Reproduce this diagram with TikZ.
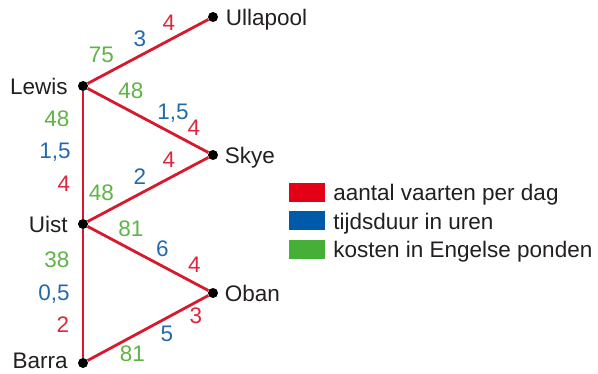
\documentclass[tikz,border=0pt]{standalone}
\usepackage{fontspec}
\setmainfont{Liberation Sans}
\usetikzlibrary{positioning}
\definecolor{routered}{RGB}{215,25,45}
\definecolor{numred}{RGB}{220,40,60}
\definecolor{numblue}{RGB}{35,105,175}
\definecolor{numgreen}{RGB}{95,180,70}
\definecolor{keyred}{RGB}{228,0,22}
\definecolor{keyblue}{RGB}{0,90,170}
\definecolor{keygreen}{RGB}{70,175,55}
\definecolor{txtgray}{RGB}{35,31,32}
\begin{document}
\begin{tikzpicture} [x=1pt, y=-1pt, port/.style={circle,fill=black,inner sep=0pt,minimum size=10pt},
place/.style={inner sep=0pt,text=txtgray,text height=16.2pt,text depth=0pt,font=\fontsize{22.5}{27}\selectfont},
num/.style={inner sep=0pt,anchor=base,font=\fontsize{22.5}{27}\selectfont},
route/.style={routered,line width=2.8pt}, keybox/.style={inner sep=0pt,minimum width=36pt,minimum height=19pt}]

\useasboundingbox (0,0) rectangle (598,374);

%harbours
\node[port] (ullapool) at (213,17) {};
\node[port] (lewis) at (83,86) {};
\node[port] (skye) at (213,155) {};
\node[port] (uist) at (83,224) {};
\node[port] (oban) at (213,293) {};
\node[port] (barra) at (83,363) {};

\node[place, right=7.5pt of ullapool] (ullapoolname) {Ullapool};
\node[place, left=10pt of lewis] (lewisname) {Lewis};
\node[place, right=6.5pt of skye] (skyename) {Skye};
\node[place, left=10pt of uist] (uistname) {Uist};
\node[place, right=6.5pt of oban] (obanname) {Oban};
\node[place, left=10pt of barra, yshift=3pt] (barraname) {Barra};

%ferry routes
\draw[route] (lewis) -- (ullapool);
\draw[route] (lewis) -- (skye);
\draw[route] (skye) -- (uist);
\draw[route] (uist) -- (oban);
\draw[route] (oban) -- (barra);
\draw[route] (lewis) -- (uist) -- (barra);

%cost, duration, ferries per day
\node[num, text=numgreen] (lu75) at (101.5,63) {75};
\node[num, text=numblue] (lu3) at (140,47) {3};
\node[num, text=numred] (lu4) at (169,31) {4};

\node[num, text=numgreen] (ls48) at (131,99) {48};
\node[num, text=numblue] (ls15) at (173,120) {1,5};
\node[num, text=numred] (ls4) at (194,136) {4};

\node[num, text=numgreen] (lw48) at (57,127) {48};
\node[num, text=numblue] (lw15) at (55,159) {1,5};
\node[num, text=numred] (lw4) at (64,192) {4};

\node[num, text=numgreen] (us48) at (101.5,201) {48};
\node[num, text=numblue] (us2) at (140,185) {2};
\node[num, text=numred] (us4) at (169,168) {4};

\node[num, text=numgreen] (uo81) at (131,237) {81};
\node[num, text=numblue] (uo6) at (162.5,257) {6};
\node[num, text=numred] (uo4) at (194.5,273) {4};

\node[num, text=numgreen] (ub38) at (57,268) {38};
\node[num, text=numblue] (ub05) at (54,301) {0,5};
\node[num, text=numred] (ub2) at (63,333) {2};

\node[num, text=numred] (ob3) at (196,324) {3};
\node[num, text=numblue] (ob5) at (167,342) {5};
\node[num, text=numgreen] (ob81) at (132.5,362) {81};

%legend
\node[keybox, fill=keyred] (redkey) at (307,192.5) {};
\node[keybox, fill=keyblue] (bluekey) at (307,221) {};
\node[keybox, fill=keygreen] (greenkey) at (307,249.5) {};
\node[place, right=8pt of redkey] (redtxt) {aantal vaarten per dag};
\node[place, right=8pt of bluekey] (bluetxt) {tijdsduur in uren};
\node[place, right=8pt of greenkey] (greentxt) {kosten in Engelse ponden};

\end{tikzpicture}
\end{document}
